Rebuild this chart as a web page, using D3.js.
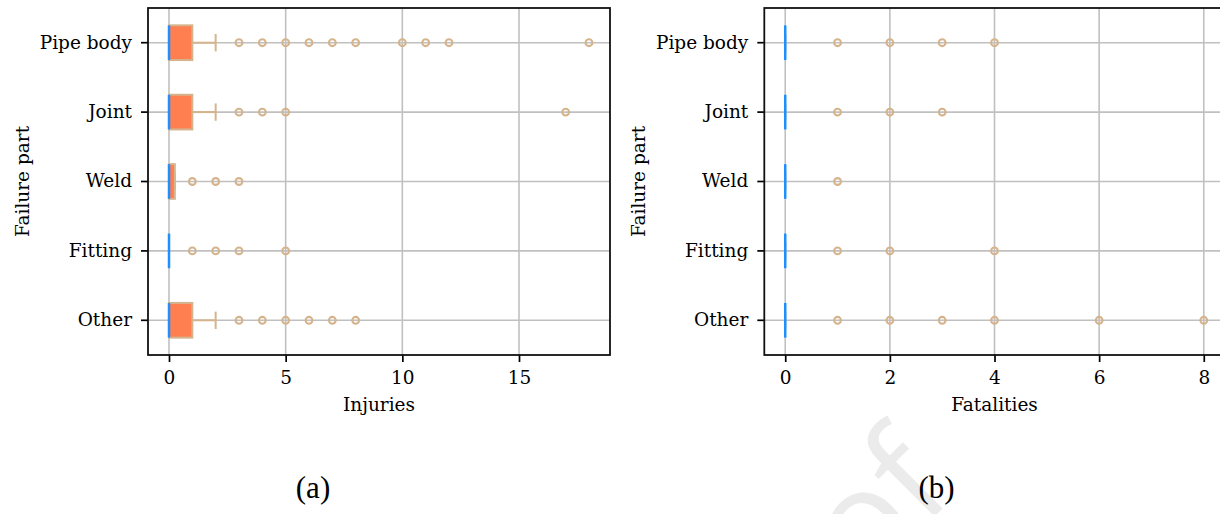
<!DOCTYPE html>
<html>
<head>
<meta charset="utf-8">
<script src="https://cdn.jsdelivr.net/npm/d3@7"></script>
<style>
  body { margin: 0; background: #fff; }
  svg { display: block; }
  .tick text { font-family: "DejaVu Serif", serif; font-size: 18.5px; fill: #000; }
</style>
</head>
<body>
<div id="chart"></div>
<script>
// categories (top to bottom)
var parts = ['Pipe body', 'Joint', 'Weld', 'Fitting', 'Other'];

// injuries box stats
var injQ1 = [0, 0, 0, 0, 0];
var injMed = [0, 0, 0, 0, 0];
var injQ3 = [1, 1, 0.25, 0, 1];
var injLo = [0, 0, 0, 0, 0];
var injHi = [2, 2, 0.25, 0, 2];
var injFliers = [
    [3, 4, 5, 6, 7, 8, 10, 11, 12, 18],
    [3, 4, 5, 17],
    [1, 2, 3],
    [1, 2, 3, 5],
    [3, 4, 5, 6, 7, 8]
];
var injTicks = [0, 5, 10, 15];

// fatalities box stats
var fatQ1 = [0, 0, 0, 0, 0];
var fatMed = [0, 0, 0, 0, 0];
var fatQ3 = [0, 0, 0, 0, 0];
var fatLo = [0, 0, 0, 0, 0];
var fatHi = [0, 0, 0, 0, 0];
var fatFliers = [
    [1, 2, 3, 4],
    [1, 2, 3],
    [1],
    [1, 2, 4],
    [1, 2, 3, 4, 6, 8]
];
var fatTicks = [0, 2, 4, 6, 8];

var width = 1220;
var height = 514;
var plotTop = 8;
var plotBot = 355;
var serif = '"DejaVu Serif", serif';
var boxFill = '#ff7f50';
var edge = '#d5b48d';
var medColor = '#1e8fff';
var gridColor = '#c0c0c0';

var svg = d3.select('#chart').append('svg')
    .attr('width', width)
    .attr('height', height);

svg.append('rect').attr('width', width).attr('height', height).attr('fill', '#fff');

// faint watermark behind everything
svg.append('text')
    .text('Proof')
    .attr('transform', 'translate(957,494) rotate(-45)')
    .attr('text-anchor', 'end')
    .style('font-family', '"Open Sans", sans-serif')
    .style('font-size', '140px')
    .style('fill', '#ebebeb');

function panel(left, right, q1, med, q3, lo, hi, fliers, ticks, label, tag) {
    var all = [];
    fliers.forEach(f => all = all.concat(f));
    all = all.concat(q1, q3, lo, hi);
    var mn = d3.min(all), mx = d3.max(all);
    var pad = (mx - mn) * 0.05;

    var x = d3.scaleLinear().domain([mn - pad, mx + pad]).range([left, right]);
    var y = d3.scaleBand().domain(parts).range([plotTop, plotBot]).padding(0);
    var bw = y.bandwidth();
    var cy = d => y(d) + bw / 2;
    var boxH = bw * 0.5;
    var capH = boxH * 0.5;

    var g = svg.append('g');

    // grid
    g.selectAll('.vgrid').data(ticks).enter().append('line')
        .attr('x1', d => x(d)).attr('x2', d => x(d))
        .attr('y1', plotTop).attr('y2', plotBot)
        .attr('stroke', gridColor).attr('stroke-width', 1.6);
    g.selectAll('.hgrid').data(parts).enter().append('line')
        .attr('x1', left).attr('x2', right)
        .attr('y1', cy).attr('y2', cy)
        .attr('stroke', gridColor).attr('stroke-width', 1.6);

    var idx = d3.range(parts.length);

    // whiskers
    g.selectAll('.whisk').data(idx).enter().append('line')
        .attr('x1', i => x(q3[i])).attr('x2', i => x(hi[i]))
        .attr('y1', i => cy(parts[i])).attr('y2', i => cy(parts[i]))
        .attr('stroke', edge).attr('stroke-width', 2);
    g.selectAll('.whiskLo').data(idx).enter().append('line')
        .attr('x1', i => x(q1[i])).attr('x2', i => x(lo[i]))
        .attr('y1', i => cy(parts[i])).attr('y2', i => cy(parts[i]))
        .attr('stroke', edge).attr('stroke-width', 2);

    // caps
    ['hi', 'lo'].forEach(k => {
        var v = k == 'hi' ? hi : lo;
        g.selectAll('.cap' + k).data(idx).enter().append('line')
            .attr('x1', i => x(v[i])).attr('x2', i => x(v[i]))
            .attr('y1', i => cy(parts[i]) - capH / 2).attr('y2', i => cy(parts[i]) + capH / 2)
            .attr('stroke', edge).attr('stroke-width', 2);
    });

    // boxes
    g.selectAll('.box').data(idx.filter(i => q3[i] > q1[i])).enter().append('rect')
        .attr('x', i => x(q1[i]))
        .attr('width', i => x(q3[i]) - x(q1[i]))
        .attr('y', i => cy(parts[i]) - boxH / 2)
        .attr('height', boxH)
        .attr('fill', boxFill)
        .attr('stroke', edge).attr('stroke-width', 2);

    // fliers
    idx.forEach(i => {
        g.selectAll('.fl' + i).data(fliers[i]).enter().append('circle')
            .attr('cx', d => x(d))
            .attr('cy', cy(parts[i]))
            .attr('r', 3.4)
            .attr('fill', 'none')
            .attr('stroke', edge).attr('stroke-width', 2.1);
    });

    // medians
    g.selectAll('.med').data(idx).enter().append('line')
        .attr('x1', i => x(med[i])).attr('x2', i => x(med[i]))
        .attr('y1', i => cy(parts[i]) - boxH / 2).attr('y2', i => cy(parts[i]) + boxH / 2)
        .attr('stroke', medColor).attr('stroke-width', 2.5);

    // axes
    var xAxis = d3.axisBottom(x).tickValues(ticks).tickSize(7).tickPadding(9).tickFormat(d3.format('d'));
    var gx = svg.append('g').attr('transform', `translate(0,${plotBot})`).call(xAxis);
    gx.select('.domain').remove();
    gx.selectAll('.tick line').attr('stroke', '#000').attr('stroke-width', 1.7);

    var yAxis = d3.axisLeft(y).tickSize(7).tickPadding(9);
    var gy = svg.append('g').attr('transform', `translate(${left},0)`).call(yAxis);
    gy.select('.domain').remove();
    gy.selectAll('.tick line').attr('stroke', '#000').attr('stroke-width', 1.7);

    // frame
    svg.append('rect')
        .attr('x', left).attr('y', plotTop)
        .attr('width', right - left).attr('height', plotBot - plotTop)
        .attr('fill', 'none').attr('stroke', '#111').attr('stroke-width', 1.8);

    svg.append('text')
        .text(label)
        .attr('x', (left + right) / 2).attr('y', 411)
        .attr('text-anchor', 'middle')
        .style('font-family', serif).style('font-size', '18.5px');

    svg.append('text')
        .text('Failure part')
        .attr('transform', `translate(${left - 119},${(plotTop + plotBot) / 2}) rotate(-90)`)
        .attr('text-anchor', 'middle')
        .style('font-family', serif).style('font-size', '18.5px');

    svg.append('text')
        .text(tag)
        .attr('x', tag == '(a)' ? 313 : 936.5).attr('y', 498)
        .attr('text-anchor', 'middle')
        .style('font-family', '"Liberation Serif", "Times New Roman", serif').style('font-size', '31px');
}

panel(148, 610, injQ1, injMed, injQ3, injLo, injHi, injFliers, injTicks, 'Injuries', '(a)');
panel(764.3, 1224.7, fatQ1, fatMed, fatQ3, fatLo, fatHi, fatFliers, fatTicks, 'Fatalities', '(b)');
</script>
</body>
</html>
